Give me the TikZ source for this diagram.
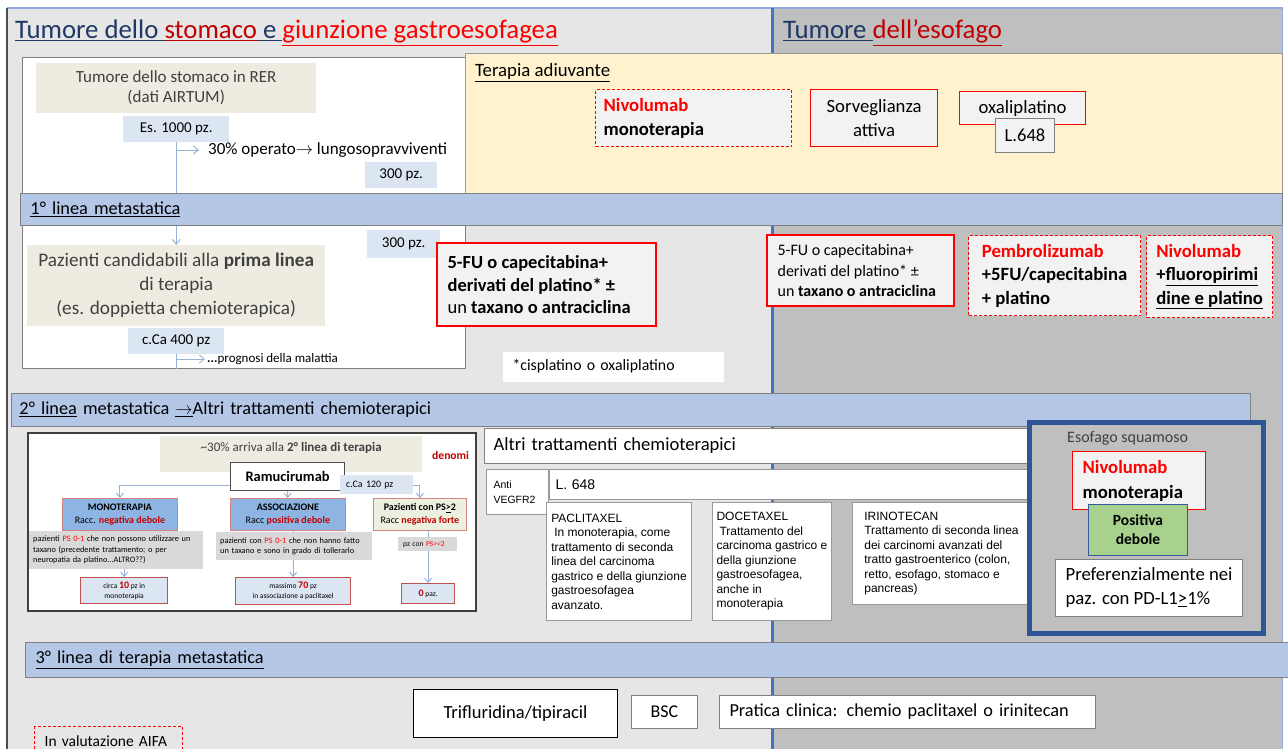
\documentclass[tikz,border=0pt]{standalone}
\usepackage{fontspec}
\setmainfont{Carlito}
\newfontfamily\arialfont{Liberation Sans}
\usepackage{xcolor}
\usetikzlibrary{arrows.meta,positioning}

\definecolor{navy}{RGB}{31,56,100}
\definecolor{dkred}{RGB}{192,0,0}
\definecolor{pnlL}{RGB}{230,230,230}
\definecolor{pnlR}{RGB}{191,191,191}
\definecolor{bandblue}{RGB}{180,199,231}
\definecolor{divblue}{RGB}{68,114,196}
\definecolor{edgeblue}{RGB}{143,170,220}
\definecolor{adjyellow}{RGB}{255,242,204}
\definecolor{boxgray}{RGB}{242,242,242}
\definecolor{beige}{RGB}{238,236,225}
\definecolor{pzblue}{RGB}{220,230,242}
\definecolor{monoblue}{RGB}{141,180,226}
\definecolor{psgreen}{RGB}{235,241,222}
\definecolor{notegray}{RGB}{217,217,217}
\definecolor{brickred}{RGB}{192,80,77}
\definecolor{squamblue}{RGB}{47,85,151}
\definecolor{posgreen}{RGB}{169,209,142}
\definecolor{linkblue}{RGB}{149,179,215}
\definecolor{darktext}{RGB}{64,64,64}

\begin{document}
\begin{tikzpicture}[
    x=1pt, y=-1pt,
    fs/.style args={#1/#2}{font=\fontsize{#1}{#2}\selectfont},
    af/.style args={#1/#2}{font=\arialfont\fontsize{#1}{#2}\selectfont},
    panel/.style={anchor=north west, inner sep=0pt},
    box/.style={draw=gray!80, fill=white, line width=1pt, anchor=north west,
                inner sep=0pt, align=center},
    redbox/.style={box, draw=red, fill=boxgray, line width=1.2pt},
    dashbox/.style={redbox, dash pattern=on 3pt off 2pt},
    redline/.style={draw=red, line width=1.2pt},
    band/.style={draw=gray, fill=bandblue, line width=1pt, anchor=north west,
                 inner xsep=10pt, inner ysep=0pt, align=left, fs=18.3/21},
    pzbox/.style={fill=pzblue, anchor=north west, inner sep=0pt, fs=15/17},
    beigebox/.style={fill=beige, anchor=north west, inner sep=0pt,
                     align=center, text=darktext},
    recbox/.style={box, draw=brickred!70, line width=0.8pt, fs=10/13},
    resbox/.style={box, fill=pzblue, draw=brickred, line width=1.3pt, fs=7.5/10},
    notebox/.style={fill=notegray, anchor=north west, inner xsep=4pt,
                    inner ysep=0pt, align=left, fs=8.3/10.5},
    abox/.style={box, draw=gray!80, align=left, inner xsep=4pt},
    flow/.style={draw=linkblue, line width=0.9pt, -{Straight Barb[length=5pt,width=8pt]}},
    flowb/.style={draw=linkblue, line width=1pt, -{Straight Barb[length=4pt,width=7pt]}}
  ]

  \useasboundingbox (0,0) rectangle (1288,749);
  \fill[white] (0,0) rectangle (1288,749);

  % two halves of the slide
  \node[panel, fill=pnlL, minimum width=765, minimum height=741] (stom) at (7,8) {};
  \node[panel, fill=pnlR, minimum width=510, minimum height=741] (esof) at (772,8) {};
  \draw[edgeblue, line width=1.5pt] (stom.north west) -- (esof.north east) -- (esof.south east);
  \draw[black!70, line width=1.2pt] (stom.north west) -- (stom.south west);
  \draw[divblue, line width=3pt] (esof.north west) -- (esof.south west);

  \node[anchor=base west, inner sep=0pt, fs=26.8/30] (titS) at (15,39)
    {\textcolor{navy}{\underline{Tumore dello }}\textcolor{dkred}{\underline{stomaco}}\textcolor{navy}{\underline{ e }}\textcolor{red}{\underline{giunzione gastroesofagea}}};
  \node[anchor=base west, inner sep=0pt, fs=26.8/30] (titE) at (783,39)
    {\textcolor{navy}{\underline{Tumore }}\textcolor{dkred}{\underline{dell’esofago}}};

  % RER data, first line
  \node[box, draw=gray, minimum width=443, minimum height=311] (ins1) at (22,57) {};
  \node[beigebox, minimum width=280, minimum height=50, fs=17/20] (rer) at (36,63)
    {Tumore dello stomaco in RER\\(dati AIRTUM)};
  \node[pzbox, minimum width=106, minimum height=26] (es1000) at (123,116) {Es. 1000 pz.};
  \node[anchor=west, inner sep=4pt, fs=17/19] (op30) at (204,150)
    {30\% operato$\rightarrow$ lungosopravviventi};
  \node[pzbox, minimum width=72, minimum height=26] (p300a) at (365,162) {300 pz.};
  \node[beigebox, minimum width=298, minimum height=81, fs=19.2/24] (paz1) at (27,245)
    {Pazienti candidabili alla \textbf{prima linea}\\di terapia\\(es. doppietta chemioterapica)};
  \node[pzbox, minimum width=73, minimum height=28] (p300b) at (367,230) {300 pz.};
  \node[pzbox, minimum width=96, minimum height=26] (ca400) at (128,328) {c.Ca 400 pz};
  \node[anchor=west, inner sep=2pt, fs=13/15] (prog) at (205,359) {\textbf{...}prognosi della malattia};
  \coordinate (ins1end) at (ins1.south -| ca400.south);

  \draw[flow] (es1000) -- (paz1);
  \draw[flow] (es1000.south |- op30.west) -- ([xshift=-5pt]op30.west);
  \draw[draw=linkblue, line width=0.9pt] (ca400) -- (ins1end);
  \draw[flow] (ca400.south |- prog.west) -- (prog.west);

  % adjuvant
  \node[box, draw=gray!80, fill=adjyellow, minimum width=817, minimum height=140] (adiuv) at (465,53) {};
  \node[anchor=base west, inner sep=0pt, fs=18.8/21] (adiuvT) at (475,77) {\underline{Terapia adiuvante}};
  \node[dashbox, align=left, inner xsep=8pt, text width=180, minimum height=57, fs=18.7/24] (nivoA) at (595,89)
    {\textcolor{red}{\textbf{Nivolumab}}\\\textbf{monoterapia}};
  \node[redbox, minimum width=127, minimum height=57, fs=18.7/24] (sorv) at (810,89) {Sorveglianza\\attiva};
  \node[redbox, minimum width=126, minimum height=33, fs=18.7/21] (oxa) at (959,91) {oxaliplatino};
  \node[box, fill=boxgray, draw=gray, minimum width=59, minimum height=34, fs=18.5/21] (l648a) at (995,118) {L.648};

  \node[band, minimum width=1262, minimum height=32, text width=1242] (lin1) at (20,193)
    {\underline{1° linea metastatica}};

  \node[redbox, inner xsep=10pt, minimum height=82, fs=18.5/22.5] (fu1) at (437,243)
    {\parbox{198pt}{\textbf{5-FU o capecitabina+}\\\textbf{derivati del platino* ±}\\un \textbf{taxano o antraciclina}}};
  \draw[redline] (fu1.north west) rectangle (fu1.south east);
  \node[box, draw=none, align=left, inner xsep=10pt, text width=201, minimum height=30, fs=15.8/18] (cispl) at (502,351)
    {*cisplatino o oxaliplatino};

  \node[redbox, inner xsep=10pt, minimum height=70, fs=16/20.5] (fu2) at (767,235)
    {\parbox{166pt}{5-FU o capecitabina+\\derivati del platino* ±\\un \textbf{taxano o antraciclina}}};
  \draw[redline] (fu2.north west) rectangle (fu2.south east);
  \node[dashbox, align=left, minimum width=172, minimum height=80, fs=18.7/23.5] (pembro) at (968,235)
    {\textbf{\textcolor{red}{Pembrolizumab}}\\\textbf{+5FU/capecitabina}\\\textbf{+ platino}};
  \node[dashbox, align=left, minimum width=126, minimum height=82, fs=18.7/23.5] (nivoB) at (1146,235)
    {\textbf{\textcolor{red}{Nivolumab}}\\\textbf{+\underline{fluoropirimi}}\\\textbf{\underline{dine e platino}}};

  \node[band, minimum width=1239, minimum height=33, text width=1223, inner xsep=8pt] (lin2) at (11,393)
    {\underline{2° linea} metastatica \underline{$\rightarrow$}Altri trattamenti chemioterapici};

  % Ramucirumab tree
  \node[box, draw=black!75, line width=1.5pt, minimum width=448, minimum height=178] (ins2) at (27,432) {};
  \node[beigebox, minimum width=262, text height=9, text depth=15, inner ysep=6pt, fs=13/15] (arr30) at (160,436)
    {\textasciitilde30\% arriva alla \textbf{2° linea di terapia}};
  \node[anchor=base west, inner sep=0pt, text=dkred, fs=11.6/13] (denom) at (432,459) {\textbf{denomi}};
  \node[box, draw=black!70, line width=1.2pt, minimum width=114, minimum height=28, fs=14.5/17] (ramu) at (230,462)
    {\textbf{Ramucirumab}};
  \node[recbox, fill=monoblue, minimum width=115, minimum height=32] (mono) at (62,498)
    {\textbf{MONOTERAPIA}\\Racc. \textcolor{dkred}{\textbf{negativa debole}}};
  \node[recbox, fill=monoblue, minimum width=115, minimum height=32] (asso) at (230,498)
    {\textbf{ASSOCIAZIONE}\\Racc \textcolor{dkred}{\textbf{positiva debole}}};
  \node[recbox, fill=psgreen, minimum width=93, minimum height=32] (ps2) at (373,498)
    {\textbf{Pazienti con PS\underline{>}2}\\Racc \textcolor{dkred}{\textbf{negativa forte}}};
  \node[resbox, minimum width=87, minimum height=26] (res1) at (80,577)
    {circa {\fontsize{10}{10}\selectfont\textbf{\textcolor{dkred}{10}}} pz in\\monoterapia};
  \node[resbox, minimum width=115, minimum height=27] (res2) at (235,577)
    {massimo {\fontsize{10}{10}\selectfont\textbf{\textcolor{dkred}{70}}} pz\\in associazione a paclitaxel};
  \node[resbox, minimum width=53, minimum height=20] (res3) at (401,583)
    {{\fontsize{10}{10}\selectfont\textbf{\textcolor{dkred}{0}}} paz.};

  \draw[flowb] ([yshift=-9pt]ramu.west) -| (mono.north);
  \draw[flowb] ([yshift=-9pt]ramu.east) -| (ps2.north);
  \draw[flowb] (ramu) -- (asso);
  \draw[flowb] (res1.north |- mono.south) -- (res1.north);
  \draw[flowb] (res2.north |- asso.south) -- (res2.north);
  \draw[flowb] (res3.north |- ps2.south) -- (res3.north);

  \node[pzbox, align=left, inner xsep=6pt, text width=61, minimum height=19, fs=9.9/11] (ca120) at (340,475) {c.Ca 120 pz};
  \node[notebox, text width=166, minimum height=38] (note1) at (29,531)
    {pazienti \textcolor{red}{PS 0-1} che non possono utilizzare un\\taxano (precedente trattamento; o per\\neuropatia da platino...ALTRO??)};
  \node[notebox, text width=148, minimum height=28] (note2) at (216,532)
    {pazienti con \textcolor{red}{PS 0-1} che non hanno fatto\\un taxano e sono in grado di tollerarlo};
  \node[notebox, inner xsep=5pt, text width=49, minimum height=14, fs=7.5/9] (note3) at (398,537) {pz con \textcolor{red}{PS>=2}};

  % other chemotherapies
  \node[box, draw=gray, align=left, inner xsep=9pt, text width=528, minimum height=35, fs=18.6/21] (altri) at (484,428)
    {Altri trattamenti chemioterapici};
  \node[abox, inner xsep=7pt, text width=48, minimum height=45, af=10.5/15] (anti) at (486,469) {Anti\\VEGFR2};
  \node[abox, inner xsep=6pt, text width=469, minimum height=30, af=14/16] (l648b) at (549,469) {L. 648};
  \node[abox, minimum width=145, minimum height=118, af=12/14.5] (pacli) at (546,502)
    {PACLITAXEL\\\hspace*{3pt}In monoterapia, come\\trattamento di seconda\\linea del carcinoma\\gastrico e della giunzione\\gastroesofagea\\avanzato.};
  \node[abox, minimum width=111, minimum height=118, af=12/14.5] (doce) at (712,502)
    {DOCETAXEL\\\hspace*{3pt}Trattamento del\\carcinoma gastrico e\\della giunzione\\gastroesofagea,\\anche in\\monoterapia};
  \node[abox, minimum width=178, minimum height=102, af=12/14.5] (irino) at (852,502)
    {IRINOTECAN\\Trattamento di seconda linea\\dei carcinomi avanzati del\\tratto gastroenterico (colon,\\retto, esofago, stomaco e\\pancreas)};

  % squamous oesophagus
  \node[box, draw=squamblue, fill=pnlR, line width=5pt, minimum width=234, minimum height=211] (squam) at (1027,420) {};
  \node[anchor=west, inner sep=0pt, text=black!75, fs=16/18] (squamT) at (1067,438) {Esofago squamoso};
  \node[redbox, align=left, inner xsep=10pt, text width=113, minimum height=58, fs=18.7/25] (nivoC) at (1072,451)
    {\textcolor{red}{\textbf{Nivolumab}}\\\textbf{monoterapia}};
  \node[box, fill=posgreen, draw=divblue!80!black, line width=1pt, minimum width=99, minimum height=51, fs=15.5/19] (posdeb) at (1088,504)
    {\textbf{Positiva}\\\textbf{debole}};
  \node[box, draw=gray, align=left, minimum width=187, minimum height=57, fs=18.7/24] (pref) at (1055,559)
    {Preferenzialmente nei\\paz. con PD-L1\underline{>}1\%};

  \node[band, minimum width=1263, minimum height=35, text width=1243] (lin3) at (25,642)
    {\underline{3° linea di terapia metastatica}};

  \node[box, draw=black, line width=1pt, minimum width=204, minimum height=48, fs=18.5/21] (trif) at (413,689) {Trifluridina/tipiracil};
  \node[box, draw=gray, minimum width=66, minimum height=33, fs=18/21] (bsc) at (631,695) {BSC};
  \node[box, draw=gray, align=left, inner xsep=10pt, text width=356, minimum height=33, fs=18.3/21] (prat) at (719,695)
    {Pratica clinica: chemio paclitaxel o irinitecan};
  \node[dashbox, fill=pnlL, align=left, inner xsep=10pt, text width=128, minimum height=30, fs=15.5/17] (aifa) at (34,726)
    {In valutazione AIFA};

\end{tikzpicture}
\end{document}
